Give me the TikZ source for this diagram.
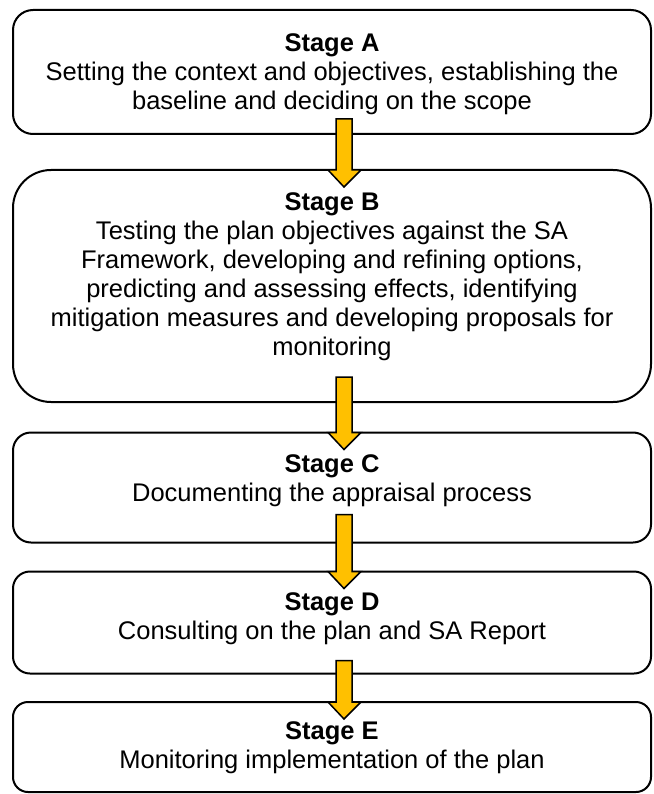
\documentclass[tikz,border=0pt]{standalone}
\usepackage{fontspec}
\setmainfont{Liberation Sans}
\usetikzlibrary{calc}
\definecolor{arrowgold}{HTML}{FFC000}
\tikzset{stagebox/.style={rectangle,draw=black,line width=2pt,minimum width=638pt,inner sep=0pt,outer sep=0pt}}
\tikzset{stagetext/.style={anchor=base,align=center,inner sep=0pt,font=\fontsize{25.5}{29}\selectfont}}
\tikzset{blockarrow/.style={draw=black,line width=1.5pt,fill=arrowgold,line join=miter}}
% block arrow from one stage box down into the next
\newcommand{\stagearrow}[3]{%
  \path[blockarrow] ($(#1.south)+(4,-#3)$) -- ($(#1.south)+(20,-#3)$)
    -- ($(#2.north)+(20,0)$) -- ($(#2.north)+(29,0)$) -- ($(#2.north)+(12,17)$)
    -- ($(#2.north)+(-4,0)$) -- ($(#2.north)+(4,0)$) -- cycle;}

\begin{document}
\begin{tikzpicture}[x=1pt,y=-1pt]
\useasboundingbox (0,0) rectangle (653,794);
% \draw[help lines,step=50] (0,0) grid (653,794);
\node (sa) [stagebox,minimum height=124pt,rounded corners=20pt] at (332,72) {};
\node (sb) [stagebox,minimum height=232pt,rounded corners=38pt] at (332,286) {};
\node (sc) [stagebox,minimum height=110pt,rounded corners=18pt] at (332,487.5) {};
\node (sd) [stagebox,minimum height=102pt,rounded corners=17pt] at (332,622.5) {};
\node (se) [stagebox,minimum height=90pt,rounded corners=15pt] at (332,747) {};
% text is placed by the baseline of its last line
\node (ta) [stagetext] at ($(sa.north)+(0,100)$) {\textbf{Stage A}\\Setting the context and objectives, establishing the\\baseline and deciding on the scope};
\node (tb) [stagetext] at ($(sb.north)+(0,185)$) {\textbf{Stage B}\\Testing the plan objectives against the SA\\Framework, developing and refining options,\\predicting and assessing effects, identifying\\mitigation measures and developing proposals for\\monitoring};
\node (tc) [stagetext] at ($(sc.north)+(0,69)$) {\textbf{Stage C}\\Documenting the appraisal process};
\node (td) [stagetext] at ($(sd.north)+(0,68)$) {\textbf{Stage D}\\Consulting on the plan and SA Report};
\node (te) [stagetext] at ($(se.north)+(0,66)$) {\textbf{Stage E}\\Monitoring implementation of the plan};
%
\stagearrow{sa}{sb}{15}
\stagearrow{sb}{sc}{25}
\stagearrow{sc}{sd}{28}
\stagearrow{sd}{se}{13}
\end{tikzpicture}
\end{document}
